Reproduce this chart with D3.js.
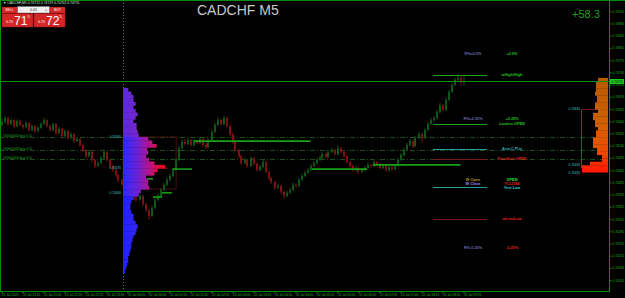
<!DOCTYPE html>
<html><head><meta charset="utf-8">
<script src="https://cdn.jsdelivr.net/npm/d3@7/dist/d3.min.js"></script>
<style>
html,body{margin:0;padding:0;background:#000;overflow:hidden}
svg{display:block}
text{font-family:"Liberation Sans",Arial,sans-serif}
</style></head><body>
<svg id="chart" width="625" height="298"></svg>
<script>
// ---------------- DATA (prices in points, 1 point = 0.00001) ----------------
const title = "CADCHF M5";
const headerText = "CADCHF,M5  0.74712 0.74729 0.74702 0.74715";
const profitText = "+58.3";
const firstOpen = 74590;
const closes = [74598,74609,74592,74603,74586,74601,74589,74583,74595,74575,74586,74572,74581,74592,74603,74586,74575,74592,74566,74578,74558,74572,74552,74563,74543,74549,74532,74518,74500,74512,74489,74472,74480,74495,74512,74489,74472,74460,74446,74432,74420,74415,74403,74392,74380,74375,74386,74363,74346,74329,74352,74375,74386,74403,74418,74432,74443,74460,74489,74523,74541,74535,74546,74532,74543,74538,74549,74532,74526,74546,74569,74589,74603,74592,74609,74586,74563,74541,74518,74500,74480,74489,74472,74495,74478,74460,74469,74483,74455,74438,74426,74409,74415,74398,74386,74395,74403,74418,74415,74432,74443,74452,74460,74472,74480,74489,74495,74506,74498,74512,74518,74506,74523,74512,74500,74483,74472,74460,74466,74455,74460,74466,74475,74472,74483,74478,74466,74472,74460,74469,74463,74472,74489,74503,74518,74532,74543,74529,74552,74563,74552,74575,74592,74603,74609,74626,74646,74632,74661,74684,74704,74718,74724,74712,74715];
const highs = [74606,74615,74612,74608,74606,74605,74604,74593,74600,74598,74590,74589,74585,74597,74610,74606,74589,74596,74595,74583,74581,74577,74575,74568,74566,74555,74552,74535,74521,74518,74515,74492,74486,74500,74518,74515,74492,74475,74463,74449,74435,74424,74418,74406,74395,74384,74392,74389,74366,74349,74358,74380,74392,74408,74424,74438,74449,74466,74495,74529,74547,74549,74552,74549,74548,74546,74555,74552,74536,74551,74575,74595,74610,74607,74615,74612,74589,74566,74544,74521,74503,74495,74492,74500,74498,74481,74475,74489,74486,74458,74441,74429,74421,74418,74401,74401,74409,74424,74422,74438,74449,74458,74466,74478,74486,74495,74501,74512,74510,74518,74524,74521,74530,74526,74515,74503,74486,74475,74472,74469,74466,74472,74481,74478,74489,74486,74481,74478,74475,74474,74472,74478,74495,74509,74524,74538,74549,74546,74558,74569,74566,74581,74598,74609,74615,74632,74652,74649,74667,74690,74710,74724,74735,74729,74729];
const lows = [74585,74594,74588,74589,74582,74583,74585,74578,74580,74570,74572,74566,74568,74578,74589,74583,74570,74572,74561,74563,74552,74555,74547,74549,74538,74540,74527,74512,74494,74497,74483,74466,74469,74477,74492,74484,74466,74455,74440,74426,74414,74409,74398,74386,74374,74369,74372,74357,74340,74318,74326,74349,74372,74383,74400,74414,74429,74440,74457,74486,74520,74531,74532,74528,74529,74534,74535,74528,74521,74523,74543,74566,74586,74588,74589,74582,74558,74535,74512,74494,74475,74477,74467,74469,74474,74455,74457,74466,74450,74432,74420,74403,74406,74392,74378,74383,74392,74400,74410,74412,74429,74440,74449,74457,74469,74477,74486,74492,74494,74495,74509,74502,74503,74508,74495,74478,74467,74455,74456,74450,74452,74457,74463,74468,74469,74474,74462,74463,74456,74457,74459,74460,74469,74486,74500,74515,74529,74524,74526,74549,74540,74549,74572,74589,74598,74606,74623,74628,74629,74658,74681,74701,74715,74702,74702];
const timeLabels = ["21 Jul 2022","21 Jul 21:10","21 Jul 21:45","21 Jul 22:20","21 Jul 22:55","21 Jul 23:30","22 Jul 00:05","22 Jul 00:40","22 Jul 01:15","22 Jul 01:50","22 Jul 02:25","22 Jul 03:00","22 Jul 03:35","22 Jul 04:10","22 Jul 04:45","22 Jul 05:20","22 Jul 05:55","22 Jul 06:30","22 Jul 07:05","22 Jul 07:40","22 Jul 08:15","22 Jul 08:50","22 Jul 09:25"];
const timeLabelBars = [0,7,14,21,28,35,42,49,56,63,70,77,84,91,98,105,112,119,126,133,140,147,154];
const priceTicks = [74915,74880,74845,74810,74775,74740,74705,74670,74635,74600,74565,74530,74495,74460,74425,74390,74355,74320,74285,74250,74215,74180,74145];
const bidPrice = 74715;
const separatorBar = 40.5;
const orderPrices = [74555,74518,74492];
const orderLabels = ["#00000000 buy 0.01","#00000000 buy 0.01","#00000000 buy 0.01"];
const levelPrices = [74732,74592,74521,74492,74412,74320];
const leftNotes = ["R%=0.5%","R%+0.25%","W Open","W Close","R%-0.25%"];
const leftNotePrices = [74792,74606,74432,74420,74237];
const rightNotes = ["+0.5%","wHigh/High","+0.25%","London OPEN","Asia C.Plot","Frankfurt OPEN","OPEN","YCLOSE","Yest Low","wLow/Low","-0.25%"];
const rightNotePrices = [74792,74732,74606,74592,74521,74492,74432,74420,74409,74320,74237];
const pocStart = [64,103.5,123.8,57,41.5,48.5,50.5,53.5];
const pocEnd   = [103,121.8,153,63.5,47.8,50.5,53.5,56.8];
const pocPrice = [74543,74463,74475,74463,74443,74435,74383,74395];
const leftProfileTop = 74695;
const leftProfileVol = [5,8,10,10,12,10,12,14,12,10,13,13,14,15,24,28,32,23,24,22,25,30,40,33,30,22,24,24,25,17,15,10,8,7,7,8,10,10,12,14,13,12,10,9,8,8,7,6,5,5,4,3,2];
const leftProfileLabels = ["0.74560","0.74470","0.74400"];
const leftProfileLabelPrices = [74555,74466,74395];
const rightProfileTop = 74724;
const rightProfileVol = [10,12,12,12,13,11,11,13,13,10,15,15,13,13,10,12,12,15,15,15,11,11,6,6,18,26,26];
const rightBoxHigh = 74635, rightBoxLow = 74466;
const rightLabels = ["0.74630","0.74430","0.74430"];
const rightLabelPrices = [74635,74475,74452];
const rangeBoxStart = 40.5, rangeBoxEnd = 58.2, rangeBoxHigh = 74555, rangeBoxLow = 74406;

// ---------------- CHART ----------------
const svg = d3.select("#chart");
const W = 625, H = 298, plotR = 609, plotB = 291;
const n = closes.length;
const opens = closes.map((c,i)=> i===0 ? firstOpen : closes[i-1]);
const x = d3.scaleLinear().domain([0, n-1]).range([1.5, 1.5 + 3*(n-1)]);
const y = d3.scaleLinear().domain([74947, 74114]).range([0, plotB]);
const fmt = v => (v/100000).toFixed(5);

svg.append("rect").attr("width",W).attr("height",H).attr("fill","#000");

const g = svg.append("g");
g.append("line").attr("x1",Math.round(x(separatorBar))+0.5).attr("x2",Math.round(x(separatorBar))+0.5)
  .attr("y1",0).attr("y2",plotB).attr("stroke","#5a7a5a").attr("stroke-dasharray","1,2");

orderPrices.forEach((p,i)=>{
  const yy = Math.round(y(p))+0.5;
  g.append("line").attr("x1",0).attr("x2",plotR).attr("y1",yy).attr("y2",yy)
   .attr("stroke","#1a4f1a").attr("stroke-dasharray","5,2,1,2");
  g.append("text").attr("x",3).attr("y",yy-0.8).attr("font-size",3.2).attr("fill","#2ab02a").text(orderLabels[i]);
});

g.append("rect").attr("x",x(rangeBoxStart)).attr("y",y(rangeBoxHigh))
  .attr("width",x(rangeBoxEnd)-x(rangeBoxStart)).attr("height",y(rangeBoxLow)-y(rangeBoxHigh))
  .attr("fill","none").attr("stroke","#5a1515").attr("stroke-width",0.8);

const bull = "#0c5814", bear = "#7e1212";
const cg = g.append("g");
for (let i=0;i<n;i++){
  const o=opens[i], c=closes[i], col = c>=o ? bull : bear;
  const cx = Math.round(x(i));
  cg.append("rect").attr("x",cx-0.5).attr("y",y(highs[i])).attr("width",1)
    .attr("height",Math.max(1,y(lows[i])-y(highs[i]))).attr("fill",col);
  const top = y(Math.max(o,c)), bot = y(Math.min(o,c));
  cg.append("rect").attr("x",cx-1).attr("y",top).attr("width",2)
    .attr("height",Math.max(1,bot-top)).attr("fill",col);
}

pocPrice.forEach((p,i)=>{
  g.append("line").attr("x1",x(pocStart[i])).attr("x2",x(pocEnd[i]))
   .attr("y1",y(p)).attr("y2",y(p)).attr("stroke","#18a018").attr("stroke-width",1.6);
});

const defs = svg.append("defs");
const gm = defs.append("linearGradient").attr("id","gMain").attr("gradientUnits","userSpaceOnUse")
  .attr("x1",123).attr("x2",170).attr("y1",0).attr("y2",0);
[[0,"#2a2aff"],[0.3,"#6a22d8"],[0.55,"#b01490"],[0.8,"#f00828"],[1,"#ff0000"]].forEach(s=>gm.append("stop").attr("offset",s[0]).attr("stop-color",s[1]));
const gt = defs.append("linearGradient").attr("id","gTop").attr("gradientUnits","userSpaceOnUse")
  .attr("x1",123).attr("x2",170).attr("y1",0).attr("y2",0);
[[0,"#5a2ae0"],[0.5,"#8a22c0"],[1,"#b01a90"]].forEach(s=>gt.append("stop").attr("offset",s[0]).attr("stop-color",s[1]));
const gb = defs.append("linearGradient").attr("id","gBot").attr("gradientUnits","userSpaceOnUse")
  .attr("x1",123).attr("x2",170).attr("y1",0).attr("y2",0);
[[0,"#2020ff"],[0.4,"#3a28f0"],[1,"#8a20c0"]].forEach(s=>gb.append("stop").attr("offset",s[0]).attr("stop-color",s[1]));
const volL = d3.scaleLinear().domain([0,40]).range([0,42]);
const px0 = 123;
leftProfileVol.forEach((v,k)=>{
  const pTop = leftProfileTop - 10*k, pBot = pTop - 10;
  const yt = y(pTop), yb = y(pBot);
  const fill = pTop > 74560 ? "url(#gTop)" : (pTop < 74390 ? "url(#gBot)" : "url(#gMain)");
  g.append("rect").attr("x",px0).attr("y",yt).attr("width",volL(v)).attr("height",yb-yt+0.3).attr("fill",fill);
});
leftProfileLabels.forEach((t,i)=>{
  g.append("text").attr("x",121).attr("y",y(leftProfileLabelPrices[i])+1).attr("text-anchor","end")
   .attr("font-size",3.2).attr("fill","#3ac8c8").text(t);
});
g.append("text").attr("x",163).attr("y",y(74466)+1.2).attr("font-size",3.4).attr("fill","#ff2020").text("CL");

const bx = 581;
g.append("line").attr("x1",bx+0.5).attr("x2",bx+0.5).attr("y1",y(rightBoxHigh)).attr("y2",y(rightBoxLow)).attr("stroke","#1a6a1a");
g.append("line").attr("x1",bx).attr("x2",plotR-1).attr("y1",Math.round(y(rightBoxHigh))+0.5).attr("y2",Math.round(y(rightBoxHigh))+0.5).attr("stroke","#6a1a1a");
rightLabels.forEach((t,i)=>{
  g.append("text").attr("x",580).attr("y",y(rightLabelPrices[i])+1).attr("text-anchor","end")
   .attr("font-size",3.2).attr("fill","#3ac8c8").text(t);
});

const volR = d3.scaleLinear().domain([0,26]).range([0,26]);
const rcol = d3.scaleLinear().domain([0,0.5,0.8,1]).range(["#b85a00","#d06000","#f04a00","#ff1a00"]);
rightProfileVol.forEach((v,k)=>{
  const pTop = rightProfileTop - 10*k;
  const yt=y(pTop), yb=y(pTop-10);
  g.append("rect").attr("x",608-volR(v)).attr("y",yt).attr("width",volR(v)).attr("height",yb-yt+0.3)
   .attr("fill", rcol(k/(rightProfileVol.length-1)));
});

const by = Math.round(y(bidPrice))+0.5;
g.append("line").attr("x1",0).attr("x2",plotR).attr("y1",by).attr("y2",by).attr("stroke","#0f8f0f");

const levelCols = ["#1fa01f","#1fa01f","#2a9a9a","#7a1a1a","#2a9a9a","#7a1a1a"];
levelPrices.forEach((p,i)=>{
  const yy = Math.round(y(p))+0.5;
  g.append("line").attr("x1",433).attr("x2",487).attr("y1",yy).attr("y2",yy).attr("stroke",levelCols[i]);
});
const leftCols = ["#6a6ab0","#6a6ab0","#b09020","#b080e0","#6a6ab0"];
leftNotes.forEach((t,i)=>{
  g.append("text").attr("x",473).attr("y",y(leftNotePrices[i])+1.2).attr("text-anchor","middle")
   .attr("font-size",3.8).attr("font-weight","bold").attr("fill",leftCols[i]).text(t);
});
const rightCols = ["#20c020","#20c020","#20c020","#20c020","#3ab0c0","#e02020","#30e030","#e02020","#30d0d0","#e02020","#e02020"];
rightNotes.forEach((t,i)=>{
  g.append("text").attr("x",512).attr("y",y(rightNotePrices[i])+1.2).attr("text-anchor","middle")
   .attr("font-size",3.8).attr("font-weight","bold").attr("fill",rightCols[i]).text(t);
});

const axCol = "#0c8c0c";
svg.append("line").attr("x1",0).attr("x2",W).attr("y1",0.5).attr("y2",0.5).attr("stroke",axCol);
svg.append("line").attr("x1",0.5).attr("x2",0.5).attr("y1",0).attr("y2",plotB).attr("stroke",axCol);
svg.append("line").attr("x1",plotR+0.5).attr("x2",plotR+0.5).attr("y1",0).attr("y2",plotB+1).attr("stroke",axCol);
svg.append("line").attr("x1",0).attr("x2",plotR+1).attr("y1",plotB+0.5).attr("y2",plotB+0.5).attr("stroke",axCol);

const yAxis = d3.axisRight(y).tickValues(priceTicks).tickFormat(fmt).tickSize(2).tickPadding(1);
const ya = svg.append("g").attr("transform",`translate(${plotR+0.5},0)`).call(yAxis);
ya.select(".domain").remove();
ya.selectAll("line").attr("stroke",axCol);
ya.selectAll("text").attr("font-size",3.2).attr("fill","#22b022").attr("font-family","Liberation Sans,Arial,sans-serif");
svg.append("rect").attr("x",plotR+1).attr("y",by-2.5).attr("width",14).attr("height",5).attr("fill","#20c820");
svg.append("text").attr("x",plotR+2.5).attr("y",by+1.2).attr("font-size",3.2).attr("fill","#000").text(fmt(bidPrice));

const xAxis = d3.axisBottom(x).tickValues(timeLabelBars).tickFormat((d,i)=>timeLabels[i]).tickSize(2).tickPadding(0.5);
const xa = svg.append("g").attr("transform",`translate(0,${plotB+0.5})`).call(xAxis);
xa.select(".domain").remove();
xa.selectAll("line").attr("stroke",axCol);
xa.selectAll("text").attr("font-size",3.2).attr("fill","#22b022").attr("text-anchor","start")
  .attr("font-family","Liberation Sans,Arial,sans-serif");

svg.append("text").attr("x",197).attr("y",15).attr("font-size",14).attr("fill","#c8c8c8").text(title);
svg.append("text").attr("x",572).attr("y",18).attr("font-size",11).attr("fill","#1ea01e").text(profitText);

svg.append("text").attr("x",3).attr("y",4.3).attr("font-size",3.4).attr("fill","#d8e8d8").text("▼ " + headerText);

const panel = svg.append("g");
const red = "#d42626";
panel.append("rect").attr("x",2).attr("y",7).attr("width",15).attr("height",6).attr("fill",red);
panel.append("text").attr("x",9.5).attr("y",11.3).attr("text-anchor","middle").attr("font-size",3.4).attr("fill","#fff").text("SELL");
panel.append("rect").attr("x",17.5).attr("y",6.5).attr("width",32).attr("height",6.5).attr("fill","#f0f0f0").attr("stroke","#777").attr("stroke-width",0.5);
panel.append("text").attr("x",20).attr("y",11).attr("font-size",4).attr("fill","#333").text("-");
panel.append("text").attr("x",45).attr("y",11).attr("font-size",4).attr("fill","#333").text("+");
panel.append("text").attr("x",33.5).attr("y",11.2).attr("text-anchor","middle").attr("font-size",3.6).attr("fill","#222").text("0.01");
panel.append("rect").attr("x",50).attr("y",7).attr("width",15).attr("height",6).attr("fill",red);
panel.append("text").attr("x",57.5).attr("y",11.3).attr("text-anchor","middle").attr("font-size",3.4).attr("fill","#fff").text("BUY");
[[2,"0.74","71","5"],[34,"0.74","72","5"]].forEach(b=>{
  panel.append("rect").attr("x",b[0]).attr("y",13.5).attr("width",31).attr("height",13.5).attr("fill",red)
    .attr("stroke","#a01010").attr("stroke-width",0.5);
  panel.append("text").attr("x",b[0]+4).attr("y",23).attr("font-size",3.6).attr("fill","#fff").text(b[1]);
  panel.append("text").attr("x",b[0]+12).attr("y",25).attr("font-size",12).attr("fill","#fff").text(b[2]);
  panel.append("text").attr("x",b[0]+25.5).attr("y",18).attr("font-size",4).attr("fill","#fff").text(b[3]);
});
</script>
</body></html>
